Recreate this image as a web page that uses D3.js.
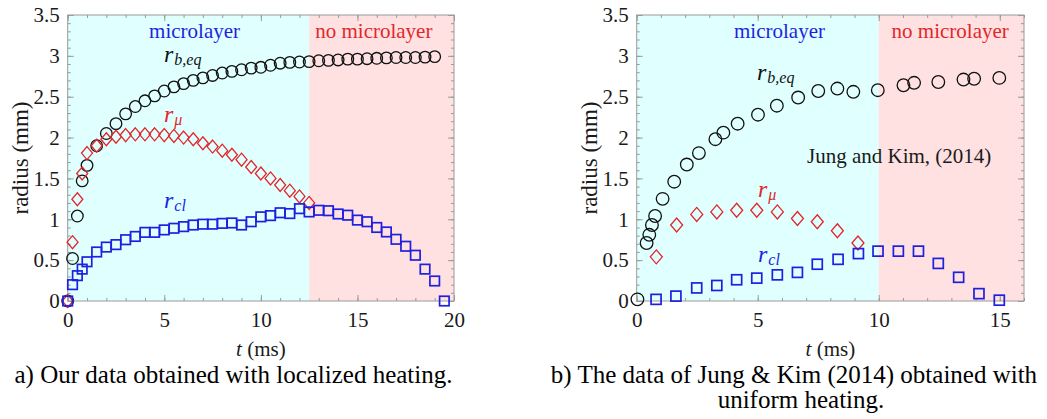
<!DOCTYPE html>
<html>
<head>
<meta charset="utf-8">
<script src="https://cdn.jsdelivr.net/npm/d3@7"></script>
<style>
  body { margin: 0; background: #fff; }
  svg { display: block; }
  text { font-family: "Liberation Serif", "Times New Roman", serif; }
</style>
</head>
<body>
<svg id="fig" width="1047" height="419"></svg>
<script>
// ---------- Panel a: localized heating ----------
const tA = [0, 0.25, 0.5, 0.75, 1, 1.5, 2, 2.5, 3, 3.5, 4, 4.5, 5, 5.5, 6, 6.5, 7, 7.5, 8, 8.5, 9, 9.5,
            10, 10.5, 11, 11.5, 12, 12.5, 13, 13.5, 14, 14.5, 15, 15.5, 16, 16.5, 17, 17.5, 18, 18.5, 19, 19.5];
const rbA = [0, 0.52, 1.04, 1.47, 1.66, 1.90, 2.05, 2.17, 2.29, 2.38, 2.45, 2.51, 2.57, 2.62, 2.66, 2.70,
             2.73, 2.76, 2.79, 2.81, 2.83, 2.85, 2.86, 2.885, 2.91, 2.92, 2.925, 2.93, 2.94, 2.945, 2.95,
             2.96, 2.96, 2.965, 2.97, 2.975, 2.98, 2.98, 2.98, 2.985, 2.99];
const rmuA = [0, 0.72, 1.245, 1.56, 1.81, 1.90, 1.98, 2.01, 2.03, 2.04, 2.04, 2.04, 2.03, 2.02, 2.00, 1.98,
              1.93, 1.89, 1.84, 1.79, 1.73, 1.64, 1.56, 1.50, 1.42, 1.35, 1.28, 1.20];
const rclA = [0, 0.20, 0.31, 0.39, 0.48, 0.60, 0.66, 0.69, 0.75, 0.79, 0.84, 0.84, 0.87, 0.89, 0.91, 0.93,
              0.94, 0.94, 0.95, 0.955, 0.93, 0.97, 1.03, 1.045, 1.08, 1.07, 1.13, 1.09, 1.11, 1.105, 1.065,
              1.05, 0.99, 0.97, 0.90, 0.845, 0.755, 0.67, 0.56, 0.39, 0.245, 0.0];

// ---------- Panel b: Jung & Kim (2014), uniform heating ----------
const tB_rb = [0.03, 0.41, 0.52, 0.63, 0.76, 1.07, 1.55, 2.07, 2.57, 3.25, 3.58, 4.17, 5.01, 5.79, 6.67,
               7.5, 8.29, 8.95, 9.96, 11.02, 11.46, 12.46, 13.5, 13.94, 14.98];
const rbB = [0.02, 0.71, 0.81, 0.93, 1.04, 1.25, 1.46, 1.67, 1.81, 1.98, 2.06, 2.17, 2.28, 2.39, 2.49,
             2.57, 2.60, 2.56, 2.58, 2.64, 2.67, 2.68, 2.71, 2.72, 2.73];
const tB_mu = [0.81, 1.65, 2.48, 3.31, 4.13, 4.96, 5.81, 6.64, 7.46, 8.29, 9.14];
const rmuB = [0.54, 0.93, 1.06, 1.09, 1.11, 1.11, 1.09, 1.01, 0.97, 0.86, 0.71];
const tB_cl = [0.80, 1.62, 2.48, 3.31, 4.13, 4.96, 5.81, 6.64, 7.46, 8.32, 9.16, 9.97, 10.81, 11.64,
               12.46, 13.3, 14.14, 14.98];
const rclB = [0.02, 0.06, 0.16, 0.19, 0.26, 0.28, 0.32, 0.35, 0.45, 0.51, 0.58, 0.61, 0.61, 0.61,
              0.46, 0.29, 0.09, 0.01];

// ---------- Axis ticks ----------
const yTickValues = [0, 0.5, 1, 1.5, 2, 2.5, 3, 3.5];
const yTickLabels = ["0", "0.5", "1", "1.5", "2", "2.5", "3", "3.5"];
const xTicksA = [0, 5, 10, 15, 20];
const xTicksB = [0, 5, 10, 15];

const svg = d3.select("#fig");
const SERIF = "'Liberation Serif', 'Times New Roman', serif";
svg.style("font-family", SERIF);
const FRAME = "#9a9a9a";
const CYAN = "#e0ffff";
const PINK = "#ffe1e2";
const BLACK = "#111";
const RED = "#e3262a";
const BLUE = "#1f1fe0";

function zip(ts, vs) { return vs.map((v, i) => ({ t: ts[i], r: v })); }

function drawPanel(p) {
  const x = d3.scaleLinear().domain(p.xDomain).range([p.left, p.right]);
  const y = d3.scaleLinear().domain([0, 3.5]).range([p.bottom, p.top]);
  const g = svg.append("g");

  // regime backgrounds
  g.append("rect").attr("x", x(p.xDomain[0])).attr("y", y(3.5))
    .attr("width", x(p.split) - x(p.xDomain[0])).attr("height", y(0) - y(3.5)).attr("fill", CYAN);
  g.append("rect").attr("x", x(p.split)).attr("y", y(3.5))
    .attr("width", x(p.xDomain[1]) - x(p.split)).attr("height", y(0) - y(3.5)).attr("fill", PINK);

  // minor ticks on all four sides, pointing inward
  const yMinor = d3.range(0, 3.5001, 0.1);
  const xMinor = d3.range(p.xDomain[0], p.xDomain[1] + 0.001, 1);
  [
    [d3.axisBottom(x), `translate(0,${p.bottom})`, xMinor],
    [d3.axisTop(x), `translate(0,${p.top})`, xMinor],
    [d3.axisLeft(y), `translate(${p.left},0)`, yMinor],
    [d3.axisRight(y), `translate(${p.right},0)`, yMinor]
  ].forEach(([ax, tr, minor]) => {
    g.append("g").attr("transform", tr)
      .call(ax.tickValues(minor).tickSize(-3).tickFormat(""))
      .call(s => s.select(".domain").remove())
      .selectAll("line").attr("stroke", FRAME);
  });

  // major ticks, labelled on the bottom and left
  [
    [d3.axisBottom(x).tickValues(p.xTicks).tickSize(-6).tickPadding(11).tickFormat(d => String(d)), `translate(0,${p.bottom})`],
    [d3.axisTop(x).tickValues(p.xTicks).tickSize(-6).tickFormat(""), `translate(0,${p.top})`],
    [d3.axisLeft(y).tickValues(yTickValues).tickSize(-6).tickPadding(8).tickFormat((d, i) => yTickLabels[i]), `translate(${p.left},0)`],
    [d3.axisRight(y).tickValues(yTickValues).tickSize(-6).tickFormat(""), `translate(${p.right},0)`]
  ].forEach(([ax, tr]) => {
    const a = g.append("g").attr("transform", tr).call(ax)
      .call(s => s.select(".domain").remove());
    a.attr("font-family", null);
    a.selectAll("line").attr("stroke", FRAME);
    a.selectAll("text").attr("font-size", 21).attr("fill", "#1a1a1a").style("font-family", SERIF);
  });

  // frame
  g.append("rect").attr("x", p.left).attr("y", p.top)
    .attr("width", p.right - p.left).attr("height", p.bottom - p.top)
    .attr("fill", "none").attr("stroke", FRAME).attr("stroke-width", 1);

  // regime labels
  g.append("text").attr("x", x(p.mlAt)).attr("y", 37.5)
    .attr("text-anchor", "middle").attr("font-size", 21).attr("fill", BLUE).text("microlayer");
  g.append("text").attr("x", x(p.nmlAt)).attr("y", 37.5)
    .attr("text-anchor", "middle").attr("font-size", 21).attr("fill", RED).text("no microlayer");

  // axis titles
  g.append("text").attr("transform", `translate(${p.left - 40},${(p.top + p.bottom) / 2}) rotate(-90)`)
    .attr("text-anchor", "middle").attr("font-size", 23).attr("fill", "#1a1a1a").text("radius (mm)");
  const xt = g.append("text").attr("x", (p.left + p.right) / 2).attr("y", 356)
    .attr("text-anchor", "middle").attr("font-size", 21).attr("fill", "#1a1a1a");
  xt.append("tspan").attr("font-style", "italic").text("t");
  xt.append("tspan").text(" (ms)");

  // markers
  g.append("g").selectAll("circle").data(zip(p.rb[0], p.rb[1])).join("circle")
    .attr("cx", d => x(d.t)).attr("cy", d => y(d.r)).attr("r", p.circR)
    .attr("fill", "none").attr("stroke", BLACK).attr("stroke-width", 1.3);
  const dw = p.diamW / 2, dh = p.diamH / 2;
  g.append("g").selectAll("path").data(zip(p.mu[0], p.mu[1])).join("path")
    .attr("transform", d => `translate(${x(d.t)},${y(d.r)})`)
    .attr("d", `M0,${-dh}L${dw},0L0,${dh}L${-dw},0Z`)
    .attr("fill", "none").attr("stroke", RED).attr("stroke-width", 1.3);
  const s = p.sq;
  g.append("g").selectAll("rect").data(zip(p.cl[0], p.cl[1])).join("rect")
    .attr("x", d => x(d.t) - s / 2).attr("y", d => y(d.r) - s / 2)
    .attr("width", s).attr("height", s)
    .attr("fill", "none").attr("stroke", BLUE).attr("stroke-width", 1.7);

  // series labels: italic r with a subscript
  p.labels.forEach(l => {
    const t = g.append("text").attr("x", l.x).attr("y", l.y).attr("fill", l.color).attr("font-size", 24);
    t.append("tspan").attr("font-style", "italic").text("r");
    t.append("tspan").attr("font-style", "italic").attr("font-size", 16).attr("dx", 1).attr("dy", 3).text(l.sub);
  });
  return { x, y, g };
}

drawPanel({
  xDomain: [0, 20], split: 12.5, xTicks: xTicksA, mlAt: 6.57, nmlAt: 15.85,
  left: 67.7, right: 454, top: 15, bottom: 301,
  rb: [tA, rbA], mu: [tA, rmuA], cl: [tA, rclA],
  circR: 5.8, diamW: 11, diamH: 13, sq: 9.5,
  labels: [
    { x: 164, y: 62, sub: "b,eq", color: BLACK },
    { x: 164, y: 122, sub: "μ", color: RED },
    { x: 164, y: 208, sub: "cl", color: BLUE }
  ]
});

const pb = drawPanel({
  xDomain: [0, 16], split: 10, xTicks: xTicksB, mlAt: 5.9, nmlAt: 12.95,
  left: 636.7, right: 1024, top: 15, bottom: 301,
  rb: [tB_rb, rbB], mu: [tB_mu, rmuB], cl: [tB_cl, rclB],
  circR: 6.3, diamW: 12, diamH: 14, sq: 10,
  labels: [
    { x: 757, y: 80, sub: "b,eq", color: BLACK },
    { x: 758, y: 197, sub: "μ", color: RED },
    { x: 758, y: 262, sub: "cl", color: BLUE }
  ]
});
pb.g.append("text").attr("x", 807).attr("y", 163).attr("font-size", 21).attr("fill", "#1a1a1a")
  .text("Jung and Kim, (2014)");

// captions
svg.append("text").attr("x", 233.5).attr("y", 383).attr("text-anchor", "middle")
  .attr("font-size", 25).attr("fill", "#000").text("a) Our data obtained with localized heating.");
svg.append("text").attr("x", 794).attr("y", 383).attr("text-anchor", "middle")
  .attr("font-size", 25).attr("fill", "#000").text("b) The data of Jung & Kim (2014) obtained with");
svg.append("text").attr("x", 801).attr("y", 408).attr("text-anchor", "middle")
  .attr("font-size", 25).attr("fill", "#000").text("uniform heating.");

// make every label use the serif face
svg.selectAll("text").style("font-family", SERIF);
</script>
</body>
</html>
